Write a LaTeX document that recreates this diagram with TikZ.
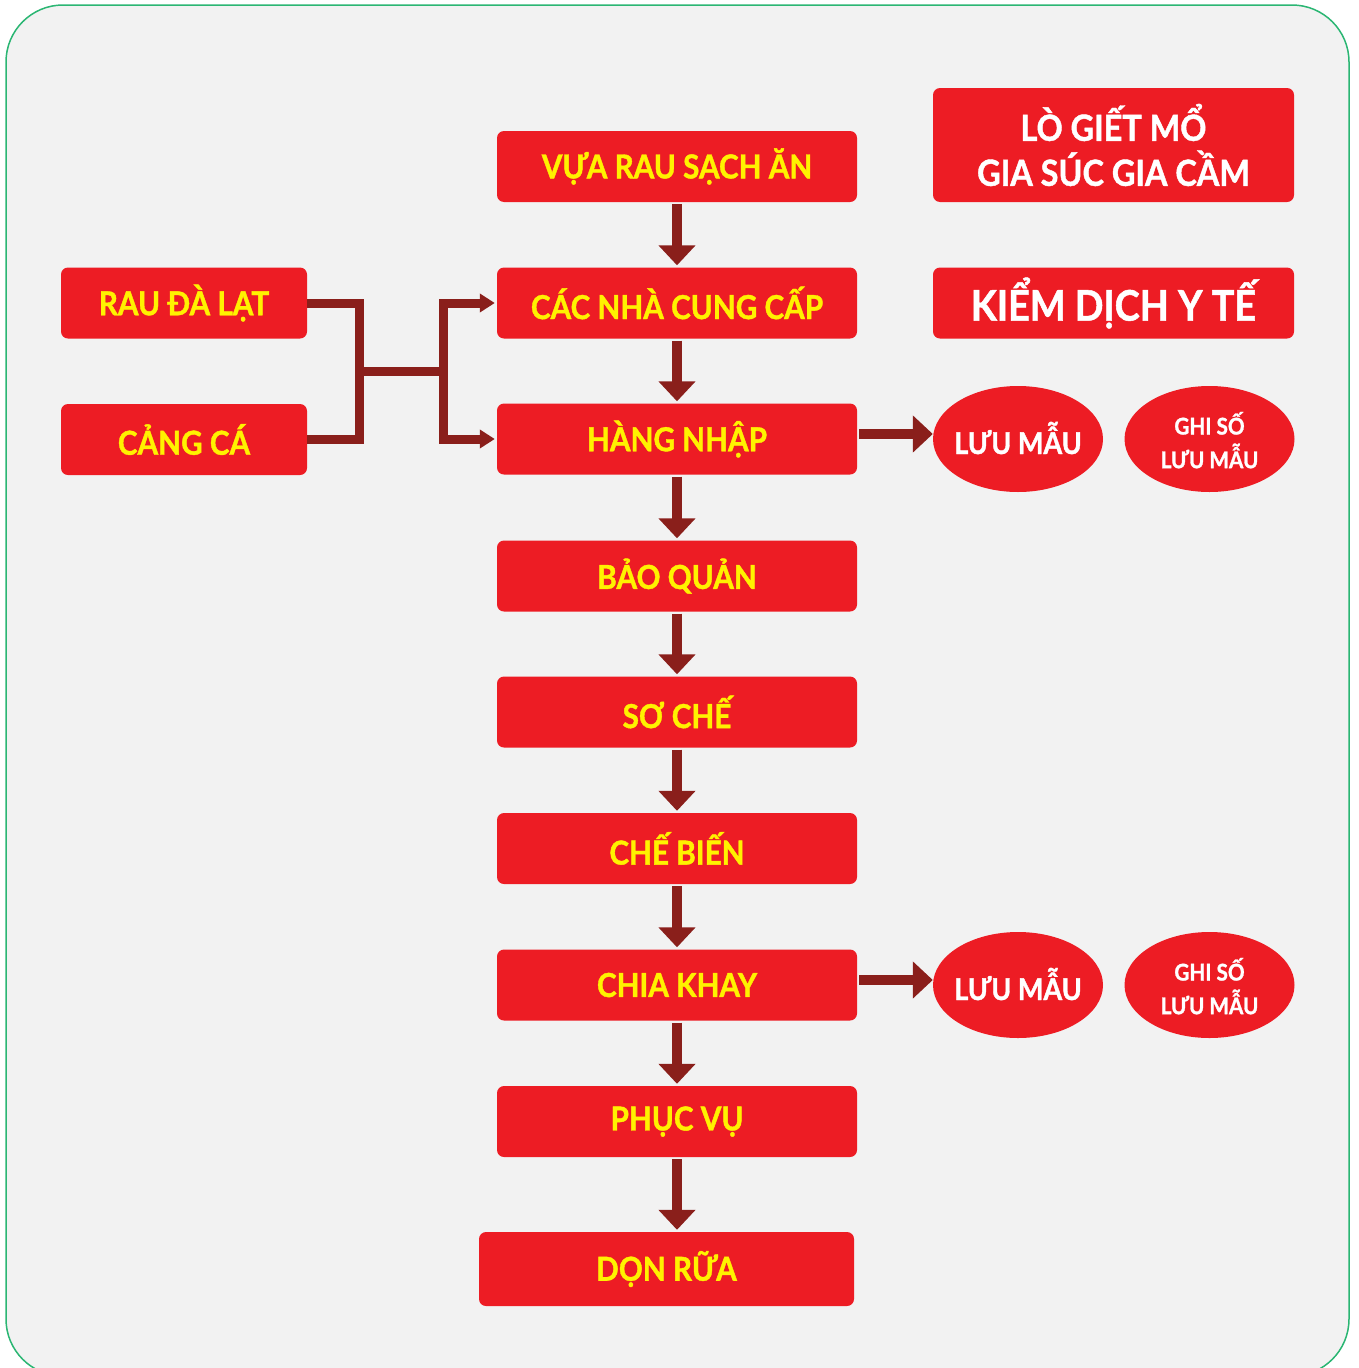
\documentclass[tikz,border=0pt]{standalone}
\usepackage{fontspec}
\setmainfont{Lato}[FakeStretch=0.9, BoldFeatures={FakeBold=1.2}]
\usetikzlibrary{arrows.meta,shapes.geometric}
\definecolor{boxred}{HTML}{ED1C24}
\definecolor{txtyellow}{HTML}{FFF200}
\definecolor{arrowred}{HTML}{8A1F1B}
\definecolor{bggray}{HTML}{F2F2F2}
\definecolor{bordergreen}{HTML}{2BB673}
\tikzset{
  stepbox/.style={fill=boxred, rounded corners=7pt, minimum width=360pt, minimum height=71pt,
    inner sep=0pt, text=txtyellow, font=\bfseries\fontsize{33}{40}\selectfont},
  sidebox/.style={stepbox, minimum width=246pt},
  whitebox/.style={fill=boxred, rounded corners=7pt, minimum width=361pt, inner sep=0pt, text=white},
  sample/.style={ellipse, fill=boxred, minimum width=170pt, minimum height=106pt, inner sep=0pt,
    text=white},
  samplebig/.style={sample, font=\bfseries\fontsize{30}{36}\selectfont, text height=30pt, text depth=0pt},
  samplesmall/.style={sample, font=\bfseries\fontsize{23}{30}\selectfont, text height=0pt, text depth=9pt},
  bigarrow/.style={draw=arrowred, line width=10pt, -{Triangle[width=36pt,length=20pt]},
    arrowred, shorten <=2pt, shorten >=2pt},
  smallarrow/.style={draw=arrowred, line width=9pt, -{Triangle[width=18pt,length=15pt]},
    shorten >=2pt},
  joinline/.style={draw=arrowred, line width=9pt, line join=miter}
}
\newcommand{\ghitext}{\begin{tabular}[t]{@{}c@{}}GHI SỐ\\LƯU MẪU\end{tabular}}
\begin{document}
\begin{tikzpicture}[x=1pt,y=-1pt]
\useasboundingbox (0,0) rectangle (1358,1368);
\begin{scope}
  \clip (0,0) rectangle (1358,1368);
  \draw[bordergreen, fill=bggray, line width=1.5pt, rounded corners=57pt] (6,5) rectangle (1349,1376);
\end{scope}
% central chain
\node[stepbox] (vua) at (677,166.5) {VỰA RAU SẠCH ĂN};
\node[stepbox] (cac) at (677,303) {CÁC NHÀ CUNG CẤP};
\node[stepbox] (hang) at (677,439) {HÀNG NHẬP};
\node[stepbox] (bao) at (677,576) {BẢO QUẢN};
\node[stepbox] (soche) at (677,712) {SƠ CHẾ};
\node[stepbox] (chebien) at (677,848.5) {CHẾ BIẾN};
\node[stepbox] (chia) at (677,985) {CHIA KHAY};
\node[stepbox] (phucvu) at (677,1121.5) {PHỤC VỤ};
\node[stepbox, minimum width=375pt, minimum height=74pt] (don) at (666.5,1269) {DỌN RỮA};
% left sources
\node[sidebox] (rau) at (184,303) {RAU ĐÀ LẠT};
\node[sidebox] (cang) at (184,439.5) {CẢNG CÁ};
% right boxes
\node[whitebox, minimum height=114pt, align=center, font=\bfseries\fontsize{36}{45}\selectfont] (lo) at (1113.5,145) {LÒ GIẾT MỔ\\GIA SÚC GIA CẦM};
\node[whitebox, minimum height=71pt, font=\bfseries\fontsize{42}{50}\selectfont] (kiem) at (1113.5,303) {KIỂM DỊCH Y TẾ};
% samples
\node[samplebig] (luu1) at (1018,439) {\makebox[0pt]{LƯU MẪU}};
\node[samplesmall] (ghi1) at (1209.5,439) {\ghitext};
\node[samplebig] (luu2) at (1018,985) {\makebox[0pt]{LƯU MẪU}};
\node[samplesmall] (ghi2) at (1209.5,985) {\ghitext};
% vertical arrows
\draw[bigarrow] (vua) -- (cac);
\draw[bigarrow] (cac) -- (hang);
\draw[bigarrow] (hang) -- (bao);
\draw[bigarrow] (bao) -- (soche);
\draw[bigarrow] (soche) -- (chebien);
\draw[bigarrow] (chebien) -- (chia);
\draw[bigarrow] (chia) -- (phucvu);
\draw[bigarrow] (phucvu.south) -- (phucvu.south |- don.north);
% horizontal arrows
\draw[bigarrow, shorten >=0pt] ([yshift=5pt]hang.east) -- ([yshift=5pt]hang.east -| luu1.west);
\draw[bigarrow, shorten >=0pt] ([yshift=5pt]chia.east) -- ([yshift=5pt]chia.east -| luu2.west);
% merge connector
\coordinate (jl) at (359,371);
\coordinate (jr) at (443,371);
\draw[joinline] (rau.east) -| (jl) |- (cang.east);
\draw[joinline] (jl) -- (jr);
\draw[smallarrow] (jr) |- (cac.west);
\draw[smallarrow] (jr) |- (hang.west);
\end{tikzpicture}
\end{document}
